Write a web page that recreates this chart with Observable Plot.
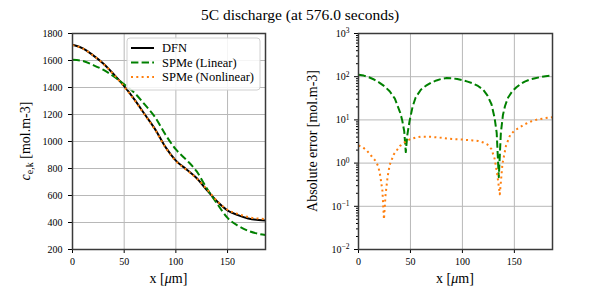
<!DOCTYPE html>
<html><head><meta charset="utf-8">
<script src="https://cdn.jsdelivr.net/npm/d3@7"></script>
<script src="https://cdn.jsdelivr.net/npm/@observablehq/plot@0.6"></script>
<style>
body{margin:0;background:#fff;font-family:"Liberation Serif",serif;}
#title{height:25px;line-height:25px;text-align:center;font-size:15.5px;width:600px;padding-top:2px;box-sizing:border-box;color:#000}
#row{display:flex;width:600px;height:275px}
svg{display:block}
svg text{font-family:"Liberation Serif",serif !important;}
</style></head><body>
<div id="title">5C discharge (at 576.0 seconds)</div>
<div id="row"></div>
<script>
// ---- data ----
const xs = [0,10,20,30,40,50,60,70,80,90,100,110,120,130,140,150,160,170,180,186.7];
const dfn = [1716,1690,1638,1576,1497,1410,1310,1200,1090,958,858,795,730,640,555,489,455,430,418,415];
const spmeLinear = [1605,1596,1566,1530,1482,1423,1360,1273,1179,1050,941,865,780,652,538,434,377,338,316,308];
const spmeNonlinear = [1714,1688,1637,1575,1495,1406,1306,1196,1086,955,855,792,727,646,558,494,463,440,429,426];

const xErrLin = [0,5,10,15,20,25,30,35,40,42,44,45.5,47,49,52,55,60,65,70,75,80,85,90,95,100,105,110,115,120,124,128,131,133,135,137,139,141,144,148,152,156,160,165,170,175,180,186.7];
const errLin = [111,106,97,86,73,60,46,31,15,10,5.5,1.8,4.5,9,20,33,50,62,73,82,89,93,92,88,83,77,70,61,50,37,23,11,5,0.47,5,13,21,33,46,57,68,77,86,92,98,102,107];
const xErrNon = [0,4,8,12,16,19,21,23,24.5,26,28,30,34,40,45,50,55,60,70,80,90,100,110,115,120,124,128,131,133.5,136,138.5,142,146,150,155,160,166,172,180,186.7];
const errNon = [2.55,2.35,1.95,1.5,1.15,0.85,0.5,0.23,0.05,0.18,0.48,0.9,1.6,2.5,3.1,3.6,3.9,4.1,4.05,3.85,3.6,3.5,3.35,3.25,3.0,2.7,2.1,1.26,0.55,0.19,0.95,2.55,4.5,5.6,6.7,7.9,9.2,10.2,11.0,11.5];

const xTicks = [0,50,100,150];
const yTicksLeft = [200,400,600,800,1000,1200,1400,1600,1800];
const yTicksRight = [0.01,0.1,1,10,100,1000];
const yTickExponents = ["−2","−1","0","1","2","3"];
const seriesNames = ["DFN","SPMe (Linear)","SPMe (Nonlinear)"];
const seriesColors = ["#000000","#008000","#ff7f0e"];
const seriesDash = [null,"7.4,3.2","2,3.3"];

const xDomain = [0,186.7];
const font = "Liberation Serif";

const leftData = xs.map((x,i)=>({x, dfn:dfn[i], lin:spmeLinear[i], non:spmeNonlinear[i]}));
const linData = xErrLin.map((x,i)=>({x, y:errLin[i]}));
const nonData = xErrNon.map((x,i)=>({x, y:errNon[i]}));

const minorTicks = [];
[0.01,0.1,1,10,100].forEach(d=>{for(let k=2;k<=9;k++) minorTicks.push(d*k);});

const gridStyle = {stroke:"#b8b8b8", strokeOpacity:1, strokeWidth:1};
const style = {fontFamily:font, fontSize:"10px", color:"#000", background:"transparent", overflow:"visible"};
const lineOpts = {strokeWidth:2, strokeLinecap:"butt", strokeLinejoin:"round", curve:"monotone-x"};

const left = Plot.plot({
  width:300, height:275, marginLeft:72, marginRight:35, marginTop:8, marginBottom:51,
  style,
  x:{domain:xDomain}, y:{domain:[200,1800]},
  marks:[
    Plot.gridX(xTicks, gridStyle),
    Plot.gridY(yTicksLeft, gridStyle),
    Plot.axisX(xTicks, {tickSize:4, tickPadding:4, label:null, tickFormat:d=>String(d)}),
    Plot.axisY(yTicksLeft, {tickSize:4, tickPadding:6, label:null, tickFormat:d=>String(d)}),
    Plot.line(leftData, {x:"x", y:"dfn", stroke:seriesColors[0], ...lineOpts}),
    Plot.line(leftData, {x:"x", y:"lin", stroke:seriesColors[1], strokeDasharray:seriesDash[1], ...lineOpts}),
    Plot.line(leftData, {x:"x", y:"non", stroke:seriesColors[2], strokeDasharray:seriesDash[2], ...lineOpts}),
    Plot.frame({stroke:"#3a3a3a", strokeWidth:1.5})
  ]
});

const right = Plot.plot({
  width:300, height:275, marginLeft:58, marginRight:48, marginTop:8, marginBottom:51,
  style,
  x:{domain:xDomain}, y:{type:"log", domain:[0.01,1000]},
  marks:[
    Plot.gridX(xTicks, gridStyle),
    Plot.gridY(yTicksRight, gridStyle),
    Plot.axisX(xTicks, {tickSize:4, tickPadding:4, label:null, tickFormat:d=>String(d)}),
    Plot.axisY(minorTicks, {tickSize:2, tickFormat:()=>"", label:null}),
    Plot.axisY(yTicksRight, {tickSize:4, tickPadding:5, label:null, tickFormat:d=>"10^"+yTickExponents[yTicksRight.indexOf(d)]}),
    Plot.line(linData, {x:"x", y:"y", stroke:seriesColors[1], strokeDasharray:seriesDash[1], clip:true, ...lineOpts, curve:"linear"}),
    Plot.line(nonData, {x:"x", y:"y", stroke:seriesColors[2], strokeDasharray:seriesDash[2], clip:true, ...lineOpts, curve:"linear"}),
    Plot.frame({stroke:"#3a3a3a", strokeWidth:1.5})
  ]
});

document.getElementById("row").append(left, right);

// superscript exponents on the log axis labels
d3.select(right).selectAll("text").each(function(){
  const s = this.textContent;
  if (s.startsWith("10^")) {
    const exp = s.slice(3);
    const t = d3.select(this);
    t.text("");
    t.append("tspan").text("10");
    t.append("tspan").attr("font-size",7.5).attr("dy","-0.45em").text(exp);
  }
});

// axis labels
function xLabel(svg, cx){
  const t = d3.select(svg).append("text").attr("x",cx).attr("y",258).attr("text-anchor","middle")
    .attr("font-family",font).attr("font-size",14).attr("fill","#000");
  t.append("tspan").text("x [");
  t.append("tspan").attr("font-style","italic").text("μ");
  t.append("tspan").text("m]");
}
xLabel(left, 168.5);
xLabel(right, 155);

const ly = d3.select(left).append("text").attr("transform","translate(30,116) rotate(-90)")
  .attr("text-anchor","middle").attr("font-family",font).attr("font-size",14).attr("fill","#000");
ly.append("tspan").attr("font-style","italic").text("c");
ly.append("tspan").attr("font-size",10).attr("dy",3).text("e,k");
ly.append("tspan").attr("dy",-3).text(" [mol.m-3]");

d3.select(right).append("text").attr("transform","translate(17,116) rotate(-90)")
  .attr("text-anchor","middle").attr("font-family",font).attr("font-size",14).attr("fill","#000")
  .text("Absolute error [mol.m-3]");

// legend
const lg = d3.select(left).append("g");
lg.append("rect").attr("x",127).attr("y",13).attr("width",133).attr("height",52).attr("rx",3)
  .attr("fill","#fff").attr("fill-opacity",0.85).attr("stroke","#d0d0d0");
seriesNames.forEach((name,i)=>{
  const y = 23 + i*14.5;
  lg.append("line").attr("x1",131).attr("x2",154).attr("y1",y).attr("y2",y)
    .attr("stroke",seriesColors[i]).attr("stroke-width",2).attr("stroke-dasharray",seriesDash[i]);
  lg.append("text").attr("x",162).attr("y",y).attr("dy","0.35em").attr("text-anchor","start")
    .attr("font-family",font).attr("font-size",12.5).attr("fill","#000").text(name);
});
</script></body></html>
